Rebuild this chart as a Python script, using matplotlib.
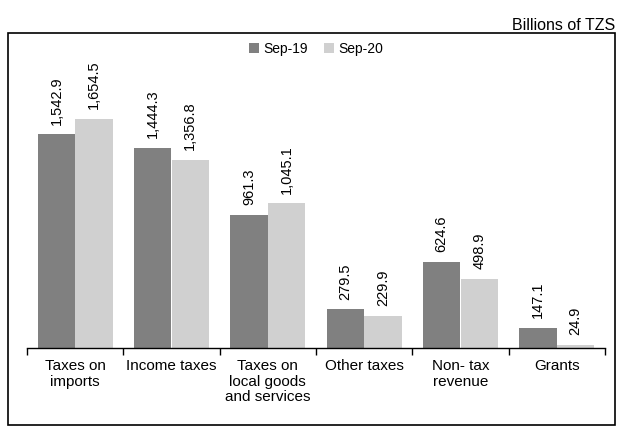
import numpy as np
import matplotlib.pyplot as plt
from matplotlib.patches import Rectangle

plt.rcParams['font.family'] = ['Liberation Sans Narrow', 'Liberation Sans', 'DejaVu Sans']

categories = ['Taxes on\nimports', 'Income taxes', 'Taxes on\nlocal goods\nand services',
              'Other taxes', 'Non- tax\nrevenue', 'Grants']
sep19 = [1542.9, 1444.3, 961.3, 279.5, 624.6, 147.1]
sep20 = [1654.5, 1356.8, 1045.1, 229.9, 498.9, 24.9]
series_names = ['Sep-19', 'Sep-20']
colors = ['#808080', '#d0d0d0']

fig = plt.figure(figsize=(6.2, 4.32), dpi=100)

# frame around the chart
fig.patches.append(Rectangle((8/620, 1 - 425/432), 607/620, 392/432, transform=fig.transFigure,
                             fill=False, edgecolor='black', linewidth=1.2))
fig.text(615/620, 1 - 25/432, 'Billions of TZS', ha='right', va='center', fontsize=11.5)

ax = fig.add_axes([27/620, 1 - 348/432, 578/620, 308/432])
x = np.arange(len(categories))
w = 0.39
b1 = ax.bar(x - w/2, sep19, w, color=colors[0], label=series_names[0])
b2 = ax.bar(x + w/2, sep20, w, color=colors[1], label=series_names[1])

for bars in (b1, b2):
    for rect in bars:
        v = rect.get_height()
        ax.annotate(f'{v:,.1f}', (rect.get_x() + rect.get_width()/2, v),
                    xytext=(0, 7), textcoords='offset points',
                    rotation=90, ha='center', va='bottom', fontsize=10.5)

ax.set_xlim(-0.5, len(categories) - 0.5)
ax.set_ylim(0, 2225)
ax.set_yticks([])
for s in ['left', 'right', 'top']:
    ax.spines[s].set_visible(False)
ax.spines['bottom'].set_linewidth(1.0)
ax.set_xticks(x)
ax.set_xticklabels(categories, fontsize=11, linespacing=1.15)
ax.tick_params(axis='x', which='major', length=0, pad=8)
ax.set_xticks(np.arange(-0.5, len(categories)), minor=True)
ax.tick_params(axis='x', which='minor', length=5, width=1.0)

ax.legend(loc='upper center', bbox_to_anchor=(0.5, 1.035), ncol=2, frameon=False,
          fontsize=10, handlelength=0.7, handleheight=0.7, handletextpad=0.3,
          columnspacing=1.2)

fig.savefig('out.png', dpi=100)
